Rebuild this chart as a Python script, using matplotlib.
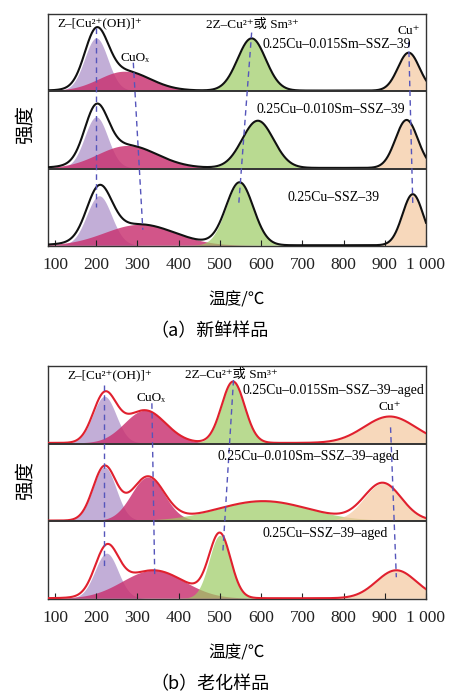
import numpy as np
import matplotlib
matplotlib.use('Agg')
import matplotlib.pyplot as plt

plt.rcParams['font.family'] = ['Liberation Serif', 'DejaVu Serif', 'Noto Sans CJK SC']
plt.rcParams['axes.unicode_minus'] = False

# ---------------- data ----------------
components = ['Z–[Cu²⁺(OH)]⁺', 'CuOₓ', '2Z–Cu²⁺或 Sm³⁺', 'Cu⁺']
x_ticks = [100, 200, 300, 400, 500, 600, 700, 800, 900, 1000]
x_ticklabels = ['100', '200', '300', '400', '500', '600', '700', '800', '900', '1 000']

# stacked panels: index 0 = bottom panel, 2 = top panel
fresh_samples = ['0.25Cu–SSZ–39', '0.25Cu–0.010Sm–SSZ–39', '0.25Cu–0.015Sm–SSZ–39']
fresh_centers = [[207, 305, 548, 968], [200, 275, 592, 953], [200, 268, 577, 958]]
fresh_heights = [[0.64, 0.27, 0.81, 0.66], [0.66, 0.29, 0.61, 0.62], [0.68, 0.25, 0.675, 0.49]]
fresh_sigmas = [[30, 85, 33, 25], [28, 72, 38, 27], [28, 62, 34, 26]]

aged_samples = ['0.25Cu–SSZ–39–aged', '0.25Cu–0.010Sm–SSZ–39–aged', '0.25Cu–0.015Sm–SSZ–39–aged']
aged_centers = [[225, 338, 500, 928], [220, 325, 605, 895], [220, 318, 532, 912]]
aged_heights = [[0.58, 0.36, 0.81, 0.36], [0.69, 0.56, 0.25, 0.48], [0.60, 0.42, 0.79, 0.34]]
aged_sigmas = [[28, 75, 26, 48], [28, 40, 110, 45], [28, 50, 28, 62]]

# guide lines (temperature at top, temperature at bottom, y top, y bottom)
fresh_guide_T = [(200, 200), (290, 313), (577, 546), (958, 968)]
fresh_guide_y = [(2.82, 0.50), (2.37, 0.21), (2.76, 0.56), (2.64, 0.53)]
aged_guide_T = [(219, 219), (335, 342), (533, 507), (914, 928)]
aged_guide_y = [(2.75, 0.41), (2.52, 0.27), (2.82, 0.59), (2.21, 0.28)]

# label positions (temperature, stacked y)
fresh_comp_pos = [(105, 2.88, 'left'), (294, 2.43, 'center'), (580, 2.86, 'center'), (958, 2.78, 'center')]
fresh_sample_pos = [(665, 0.63), (590, 1.76), (604, 2.60)]
aged_comp_pos = [(129, 2.88, 'left'), (332, 2.59, 'center'), (529, 2.88, 'center'), (912, 2.47, 'center')]
aged_sample_pos = [(604, 0.84), (495, 1.83), (556, 2.68)]

fill_colors = ['#a98cc6', '#c9306f', '#9ccb62', '#f5c89f']
fill_alphas = [0.7, 0.82, 0.7, 0.7]
guide_color = '#5555bb'

T = np.linspace(83, 1000, 1200)


def draw_chart(ax, centers, heights, sigmas, line_color, samples, sample_pos,
               comp_pos, guide_T, guide_y):
    for k in range(3):
        base = k + 0.01
        total = np.zeros_like(T)
        for j in range(4):
            y = heights[k][j] * np.exp(-(T - centers[k][j]) ** 2 / (2 * sigmas[k][j] ** 2))
            ax.fill_between(T, base, base + y, color=fill_colors[j], alpha=fill_alphas[j],
                            lw=0, zorder=1 + j * 0.1)
            total += y
        ax.plot(T, base + total, color=line_color, lw=1.5, zorder=3)
    for yy in (1, 2):
        ax.axhline(yy, color='#333333', lw=1.4, zorder=4)
    for (t0, t1), (y0, y1) in zip(guide_T, guide_y):
        ax.plot([t0, t1], [y0, y1], color=guide_color, lw=1.0,
                linestyle=(0, (4, 3)), zorder=5)
    for name, (tx, ty, ha) in zip(components, comp_pos):
        ax.text(tx, ty, name, fontsize=9.5, ha=ha, va='center', zorder=6)
    for name, (tx, ty) in zip(samples, sample_pos):
        ax.text(tx, ty, name, fontsize=10, ha='left', va='center', zorder=6)
    ax.set_xlim(83, 1000)
    ax.set_ylim(0, 3)
    ax.set_yticks([])
    ax.set_xticks(x_ticks)
    ax.set_xticklabels(x_ticklabels)
    ax.tick_params(axis='x', direction='in', length=4, width=0.8, labelsize=12.5, pad=8,
                   colors='#222222')
    for s in ax.spines.values():
        s.set_color('#333333')
        s.set_linewidth(1.0)
    ax.set_xlabel('温度/℃', family=['Noto Sans CJK SC'], fontsize=12, labelpad=13)


fig = plt.figure(figsize=(4.52, 6.92), dpi=100)
W, H = 452, 692
ax1 = fig.add_axes([48 / W, 1 - 246 / H, 378 / W, 232 / H])
ax2 = fig.add_axes([48 / W, 1 - 599 / H, 378 / W, 233 / H])

draw_chart(ax1, fresh_centers, fresh_heights, fresh_sigmas, '#111111', fresh_samples,
           fresh_sample_pos, fresh_comp_pos, fresh_guide_T, fresh_guide_y)
draw_chart(ax2, aged_centers, aged_heights, aged_sigmas, '#e0202e', aged_samples,
           aged_sample_pos, aged_comp_pos, aged_guide_T, aged_guide_y)

for yc in (125, 481):
    fig.text(25 / W, 1 - yc / H, '强度', family=['Noto Sans CJK SC'], fontsize=14,
             rotation=90, ha='center', va='center')

fig.text(210 / W, 1 - 331 / H, '（a）新鲜样品', family=['Noto Sans CJK SC', 'DejaVu Sans'],
         fontsize=13, ha='center', va='center')
fig.text(210 / W, 1 - 684 / H, '（b）老化样品', family=['Noto Sans CJK SC', 'DejaVu Sans'],
         fontsize=13, ha='center', va='center')

fig.savefig('out.png', dpi=100)
